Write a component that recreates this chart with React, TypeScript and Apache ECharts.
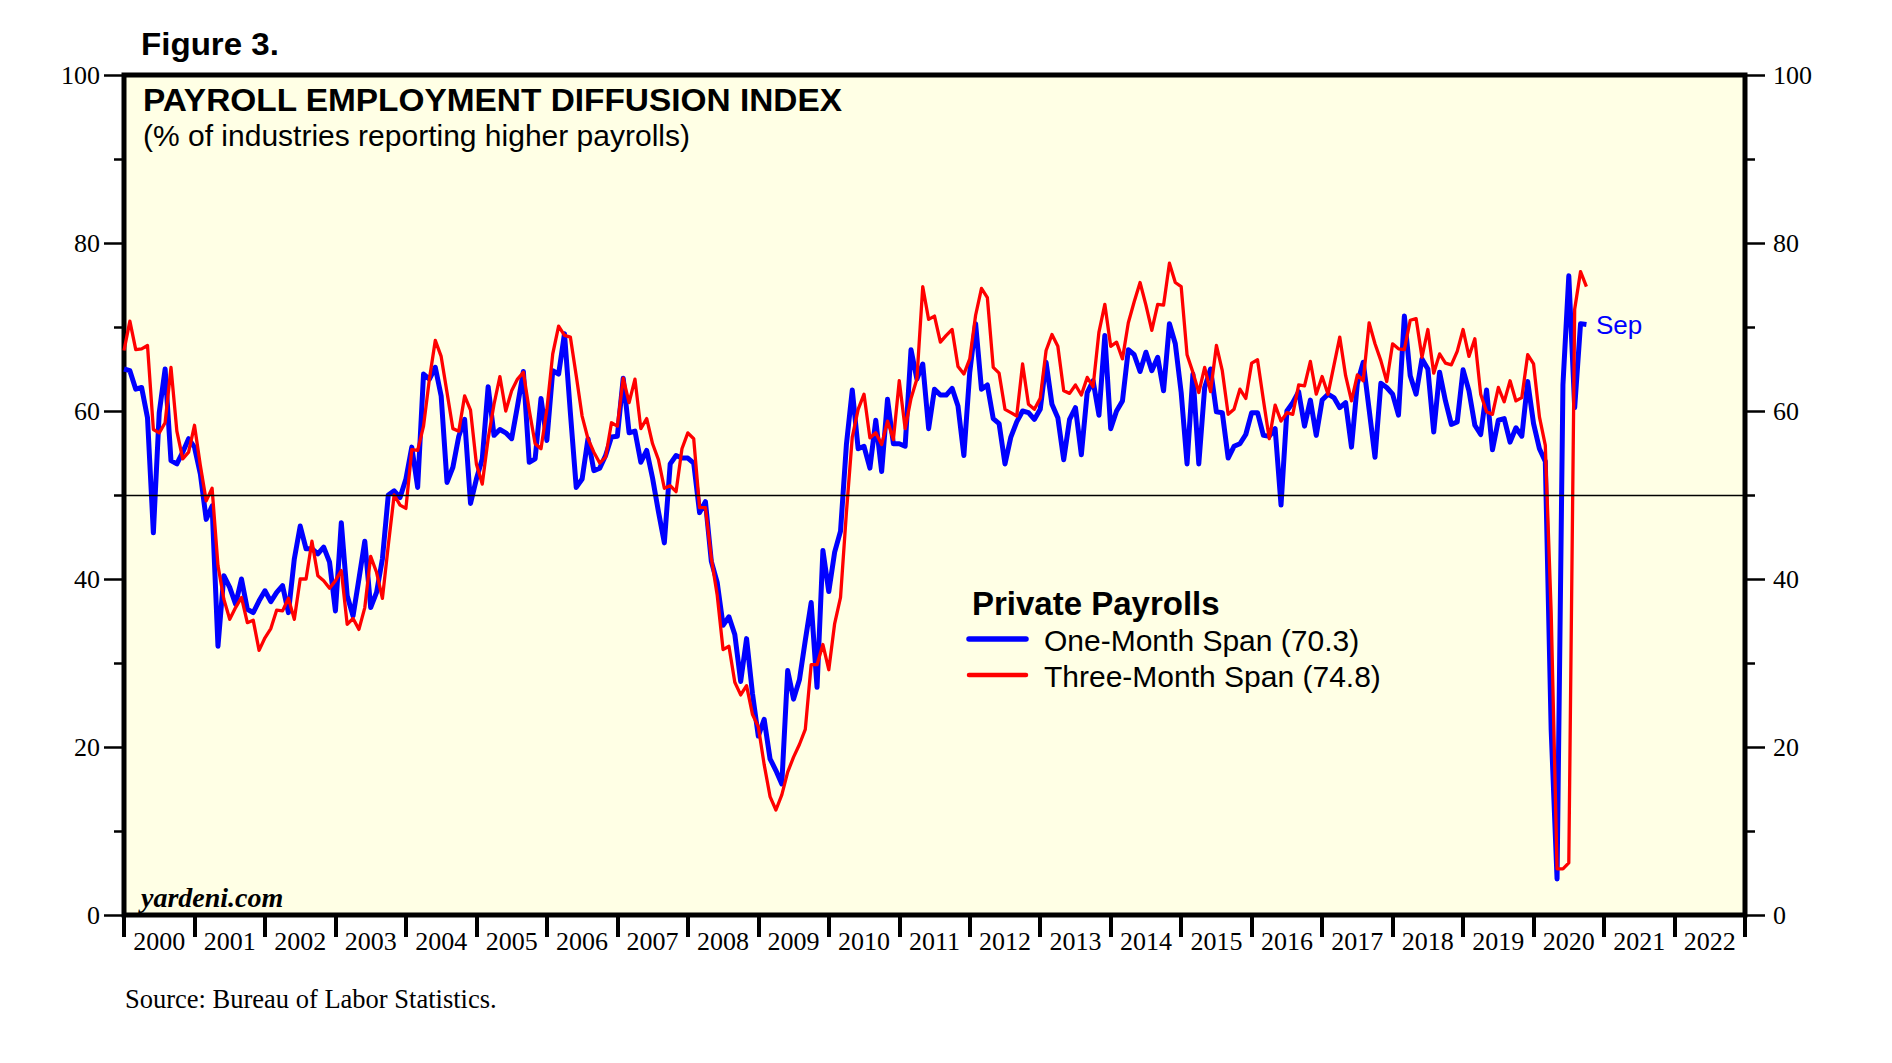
import React, { useEffect, useRef } from "react";
import * as echarts from "echarts";

// Monthly observations, Dec 1999 .. Sep 2020 (plotted at month end)
const startYear = 1999;
const startMonth = 12;

const oneMonthSpan = [
  65.0, 64.8, 62.6, 62.8, 59.2, 45.5, 59.8, 65.0, 54.1, 53.7, 55.1, 56.7,
  55.7, 52.5, 47.1, 48.7, 32.0, 40.4, 39.0, 37.0, 40.0, 36.4, 36.0, 37.4,
  38.6, 37.3, 38.4, 39.2, 36.0, 42.4, 46.3, 43.6, 43.6, 43.0, 43.8, 42.0,
  36.2, 46.7, 38.0, 35.6, 40.0, 44.5, 36.6, 38.4, 42.4, 50.0, 50.5, 49.7,
  51.9, 55.7, 50.9, 64.4, 63.8, 65.2, 61.8, 51.5, 53.3, 57.0, 59.0, 49.0,
  51.9, 54.3, 62.9, 57.1, 57.8, 57.4, 56.7, 60.6, 64.7, 53.9, 54.3, 61.5,
  56.5, 64.8, 64.4, 69.2, 59.8, 50.9, 51.9, 56.7, 52.9, 53.2, 54.7, 56.9,
  57.0, 63.9, 57.4, 57.6, 53.9, 55.3, 52.0, 48.0, 44.3, 53.7, 54.7, 54.4,
  54.4, 53.8, 47.9, 49.2, 42.1, 39.6, 34.5, 35.5, 33.4, 27.8, 32.9, 26.4,
  21.3, 23.3, 18.6, 17.2, 15.6, 29.1, 25.7, 28.0, 32.7, 37.2, 27.1, 43.4,
  38.5, 43.2, 45.7, 56.0, 62.5, 55.5, 55.8, 53.2, 58.9, 52.8, 61.4, 56.1,
  56.1, 55.8, 67.3, 63.8, 65.6, 57.9, 62.6, 61.9, 61.9, 62.7, 60.6, 54.7,
  64.6, 70.4, 62.6, 63.1, 59.1, 58.5, 53.7, 56.9, 58.7, 60.0, 59.8, 59.0,
  60.2, 65.8, 60.8, 59.2, 54.2, 59.0, 60.4, 54.8, 62.2, 63.6, 59.5, 69.0,
  57.9, 60.0, 61.2, 67.3, 66.7, 64.7, 67.0, 64.8, 66.4, 62.4, 70.4, 68.0,
  62.2, 53.7, 64.4, 53.7, 62.8, 65.0, 59.9, 59.8, 54.4, 55.8, 56.1, 57.2,
  59.8, 59.8, 57.1, 57.0, 57.9, 48.8, 60.0, 61.0, 62.3, 58.2, 61.3, 57.1,
  61.3, 62.0, 61.6, 60.4, 61.0, 55.7, 63.3, 65.8, 60.2, 54.5, 63.3, 62.8,
  62.0, 59.5, 71.3, 64.2, 62.0, 66.2, 65.0, 57.5, 64.6, 61.2, 58.4, 58.7,
  64.9, 62.4, 58.3, 57.2, 62.5, 55.4, 58.9, 59.1, 56.3, 58.0, 57.0, 63.5,
  58.5, 55.5, 54.0, 22.0, 4.3, 63.1, 76.1, 60.4, 70.4, 70.3,
];

const threeMonthSpan = [
  67.2, 70.7, 67.3, 67.4, 67.8, 57.8, 57.4, 58.6, 65.2, 57.6, 54.3, 55.1,
  58.3, 53.5, 49.3, 50.8, 41.6, 37.6, 35.2, 36.6, 37.8, 34.8, 35.1, 31.5,
  33.0, 34.1, 36.3, 36.2, 37.7, 35.2, 40.0, 40.0, 44.5, 40.4, 39.8, 38.9,
  39.8, 41.0, 34.6, 35.3, 34.0, 36.6, 42.7, 40.8, 37.7, 44.0, 50.0, 48.8,
  48.4, 55.4, 55.3, 58.2, 63.8, 68.4, 66.5, 62.2, 57.9, 57.6, 61.8, 60.1,
  53.7, 51.3, 56.7, 60.8, 64.1, 60.0, 62.4, 63.8, 64.6, 60.1, 56.1, 55.5,
  60.2, 66.8, 70.1, 69.0, 68.8, 64.2, 59.4, 56.7, 55.1, 53.8, 54.5, 58.6,
  58.2, 63.9, 61.0, 63.8, 57.9, 59.1, 56.1, 54.2, 50.8, 51.1, 50.4, 55.5,
  57.4, 56.7, 48.5, 48.5, 42.5, 38.1, 31.6, 32.0, 27.7, 26.2, 27.3, 23.9,
  22.4, 17.9, 14.1, 12.5, 14.3, 17.0, 18.8, 20.3, 22.1, 29.8, 29.8, 32.2,
  29.2, 34.7, 37.8, 47.9, 56.9, 60.2, 62.0, 56.8, 57.4, 56.0, 58.8, 56.6,
  63.6, 57.9, 61.5, 63.8, 74.8, 70.9, 71.3, 68.2, 69.0, 69.7, 65.3, 64.4,
  66.2, 71.4, 74.6, 73.5, 65.2, 64.5, 60.2, 59.8, 59.4, 65.6, 60.8, 60.2,
  61.5, 67.2, 69.1, 67.7, 62.4, 62.1, 63.1, 61.9, 64.0, 62.9, 69.4, 72.7,
  67.7, 68.2, 66.2, 70.5, 73.0, 75.3, 72.6, 69.6, 72.7, 72.6, 77.6, 75.3,
  74.8, 66.7, 64.6, 62.2, 65.2, 62.3, 67.8, 64.8, 59.6, 60.2, 62.6, 61.5,
  65.7, 66.1, 61.3, 56.7, 60.7, 58.8, 59.8, 59.6, 63.1, 63.0, 65.9, 62.0,
  64.1, 62.0, 65.4, 68.8, 64.2, 61.2, 64.3, 63.6, 70.5, 68.0, 66.0, 63.5,
  68.0, 67.4, 67.3, 70.8, 71.0, 66.4, 69.7, 64.5, 66.8, 65.7, 65.5, 67.1,
  69.7, 66.5, 68.6, 62.0, 59.9, 59.6, 62.8, 61.1, 63.6, 61.2, 61.6, 66.7,
  65.6, 59.3, 55.9, 36.0, 5.5, 5.5, 6.2, 72.1, 76.6, 74.8,
];

const yearLabels = [
  "2000", "2001", "2002", "2003", "2004", "2005", "2006", "2007", "2008",
  "2009", "2010", "2011", "2012", "2013", "2014", "2015", "2016", "2017",
  "2018", "2019", "2020", "2021", "2022",
];

const yTicks = { min: 0, max: 100, interval: 20 };
const referenceLevel = 50;
const legendTitle = "Private Payrolls";
const legendOne = "One-Month Span (70.3)";
const legendThree = "Three-Month Span (74.8)";
const lastLabel = "Sep";

function toPairs(values: number[]) {
  return values.map((v, i) => {
    const m = startMonth + i; // month count from Jan of startYear (1-based)
    const x = startYear + m / 12;
    return [x, v];
  });
}

const SANS = "'Liberation Sans', Arial, sans-serif";
const SERIF = "'Liberation Serif', 'Times New Roman', serif";

export default function App() {
  const ref = useRef<HTMLDivElement>(null);

  useEffect(() => {
    if (!ref.current) return;
    const chart = echarts.init(ref.current, undefined, { renderer: "svg" });

    const yAxisBase = (pos: "left" | "right", margin: number) => ({
      type: "value",
      position: pos,
      min: yTicks.min,
      max: yTicks.max,
      interval: yTicks.interval,
      axisLine: { show: false },
      axisTick: { show: true, length: 20, lineStyle: { color: "#000", width: 2.5 } },
      minorTick: { show: true, splitNumber: 2, length: 10, lineStyle: { color: "#000", width: 2.5 } },
      splitLine: { show: false },
      minorSplitLine: { show: false },
      axisLabel: { margin, fontFamily: SERIF, fontSize: 26, color: "#000" },
    });

    const option: any = {
      animation: false,
      backgroundColor: "#FFFFFF",
      grid: {
        left: 124,
        top: 75,
        width: 1621,
        height: 840,
        show: true,
        backgroundColor: "#FFFFE5",
        borderColor: "#000",
        borderWidth: 5,
      },
      xAxis: [
        { type: "value", min: 2000, max: 2023, show: false },
        {
          type: "category",
          data: yearLabels,
          position: "bottom",
          boundaryGap: true,
          axisLine: { show: false },
          axisTick: { show: true, interval: 0, length: 22, lineStyle: { color: "#000", width: 4 } },
          axisLabel: { interval: 0, margin: 13, fontFamily: SERIF, fontSize: 26, color: "#000" },
          splitLine: { show: false },
        },
      ],
      yAxis: [yAxisBase("left", 24), yAxisBase("right", 28)],
      series: [
        {
          type: "line",
          xAxisIndex: 0,
          yAxisIndex: 0,
          data: [],
          silent: true,
          markLine: {
            silent: true,
            symbol: ["none", "none"],
            label: { show: false },
            lineStyle: { color: "#000", width: 1.3, type: "solid" },
            data: [{ yAxis: referenceLevel }],
          },
        },
        {
          name: "One-Month Span",
          type: "line",
          xAxisIndex: 0,
          yAxisIndex: 0,
          data: toPairs(oneMonthSpan),
          showSymbol: false,
          symbol: "none",
          lineStyle: { color: "#0000FF", width: 5, join: "round" },
          itemStyle: { color: "#0000FF" },
          z: 3,
        },
        {
          name: "Three-Month Span",
          type: "line",
          xAxisIndex: 0,
          yAxisIndex: 0,
          data: toPairs(threeMonthSpan),
          showSymbol: false,
          symbol: "none",
          lineStyle: { color: "#FF0000", width: 3.3, join: "round" },
          itemStyle: { color: "#FF0000" },
          z: 4,
        },
      ],
      graphic: [
        {
          type: "text",
          x: 141,
          y: 44,
          scaleX: 1.035,
          z: 100,
          style: { text: "Figure 3.", fontFamily: SANS, fontWeight: "bold", fontSize: 32, fill: "#000", align: "left", verticalAlign: "middle" },
        },
        {
          type: "text",
          x: 143,
          y: 100,
          scaleX: 1.044,
          z: 100,
          style: { text: "PAYROLL EMPLOYMENT DIFFUSION INDEX", fontFamily: SANS, fontWeight: "bold", fontSize: 32, fill: "#000", align: "left", verticalAlign: "middle" },
        },
        {
          type: "text",
          x: 143,
          y: 136,
          scaleX: 1.035,
          z: 100,
          style: { text: "(% of industries reporting higher payrolls)", fontFamily: SANS, fontSize: 29, fill: "#000", align: "left", verticalAlign: "middle" },
        },
        {
          type: "text",
          x: 972,
          y: 603,
          z: 100,
          style: { text: legendTitle, fontFamily: SANS, fontWeight: "bold", fontSize: 33, fill: "#000", align: "left", verticalAlign: "middle" },
        },
        {
          type: "line",
          z: 100,
          shape: { x1: 969, y1: 639, x2: 1026, y2: 639 },
          style: { stroke: "#0000FF", lineWidth: 5.5, lineCap: "round" },
        },
        {
          type: "line",
          z: 100,
          shape: { x1: 969, y1: 675, x2: 1026, y2: 675 },
          style: { stroke: "#FF0000", lineWidth: 4.5, lineCap: "round" },
        },
        {
          type: "text",
          x: 1044,
          y: 640,
          z: 100,
          style: { text: legendOne, fontFamily: SANS, fontSize: 30, fill: "#000", align: "left", verticalAlign: "middle" },
        },
        {
          type: "text",
          x: 1044,
          y: 676,
          z: 100,
          style: { text: legendThree, fontFamily: SANS, fontSize: 30, fill: "#000", align: "left", verticalAlign: "middle" },
        },
        {
          type: "text",
          x: 1596,
          y: 325,
          z: 100,
          style: { text: lastLabel, fontFamily: SANS, fontSize: 26, fill: "#0000FF", align: "left", verticalAlign: "middle" },
        },
        {
          type: "text",
          x: 141,
          y: 897,
          z: 100,
          style: { text: "yardeni.com", fontFamily: SERIF, fontWeight: "bold", fontStyle: "italic", fontSize: 28, fill: "#000", align: "left", verticalAlign: "middle" },
        },
        {
          type: "text",
          x: 125,
          y: 999,
          z: 100,
          style: { text: "Source: Bureau of Labor Statistics.", fontFamily: SERIF, fontSize: 26.5, fill: "#000", align: "left", verticalAlign: "middle" },
        },
      ],
    };

    chart.setOption(option);
    return () => chart.dispose();
  }, []);

  return (
    <div
      ref={ref}
      style={{ position: "fixed", left: 0, top: 0, width: 1892, height: 1063, background: "#fff" }}
    />
  );
}
